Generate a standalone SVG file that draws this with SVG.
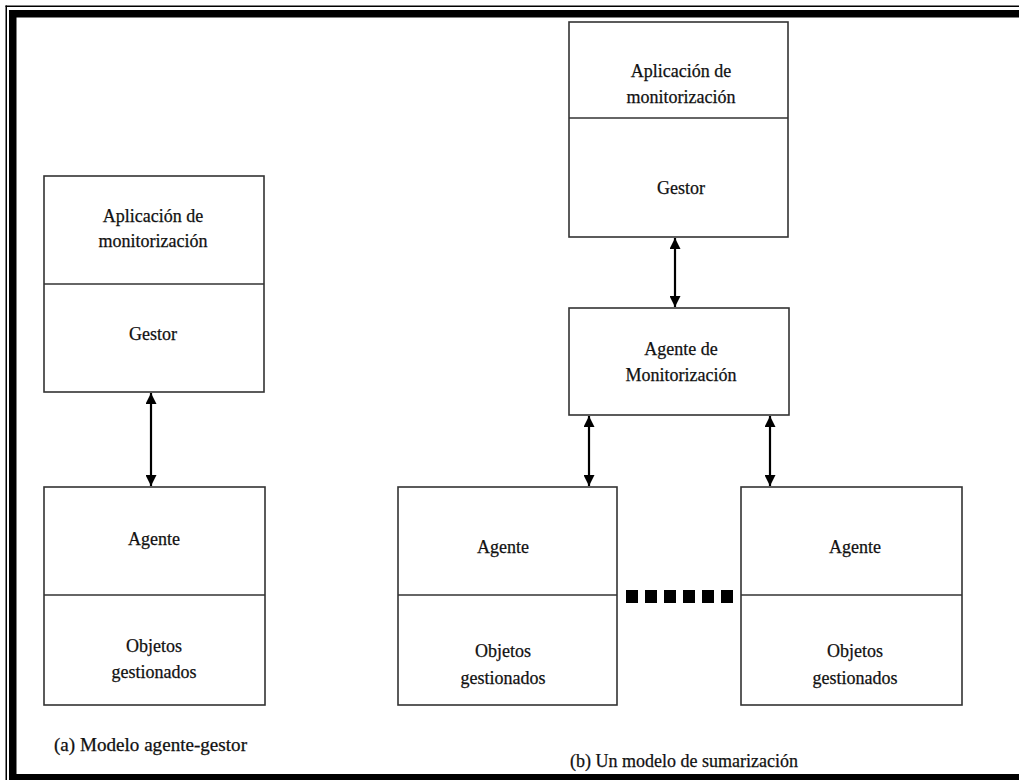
<svg xmlns="http://www.w3.org/2000/svg" width="1019" height="780" viewBox="0 0 1019 780">
<style>
.box{fill:#fff;stroke:#333;stroke-width:1.6}
.div{stroke:#333;stroke-width:1.6}
.t{font-family:"Liberation Serif","Times New Roman","DejaVu Serif",serif;font-size:18px;fill:#111;stroke:#111;stroke-width:0.25;text-anchor:middle}
.cap{font-family:"Liberation Serif","Times New Roman","DejaVu Serif",serif;font-size:18px;fill:#111;stroke:#111;stroke-width:0.25}
.conn{stroke:#000;stroke-width:2.2;fill:none;marker-start:url(#ah);marker-end:url(#ah)}
</style>
<defs>
<marker id="ah" viewBox="0 0 10 10" refX="10" refY="5" markerWidth="5" markerHeight="5" orient="auto-start-reverse" markerUnits="strokeWidth">
<path d="M0,0 L10,5 L0,10 z" fill="#000"/>
</marker>
</defs>
<rect width="1019" height="780" fill="#fff"/>
<g id="frame">
<rect x="5.5" y="5.5" width="1013.5" height="1.5" fill="#000"/>
<rect x="5.5" y="5.5" width="1.5" height="774.5" fill="#000"/>
<rect x="9" y="10" width="1010" height="7.5" fill="#000"/>
<rect x="9" y="10" width="7.5" height="770" fill="#000"/>
<rect x="9" y="774" width="1010" height="6" fill="#000"/>
</g>
<g id="connectors">
<line class="conn" x1="151" y1="393" x2="151" y2="486"/>
<line class="conn" x1="675" y1="238" x2="675" y2="307"/>
<line class="conn" x1="589" y1="416" x2="589" y2="486"/>
<line class="conn" x1="770" y1="416" x2="770" y2="486"/>
</g>
<g id="left-manager">
<rect class="box" x="44" y="176" width="220" height="216"/>
<line class="div" x1="44" y1="284" x2="264" y2="284"/>
<text class="t" x="153" y="222">Aplicación de</text>
<text class="t" x="153" y="247">monitorización</text>
<text class="t" x="153" y="340">Gestor</text>
</g>
<g id="left-agent">
<rect class="box" x="44" y="487" width="221" height="218"/>
<line class="div" x1="44" y1="595" x2="265" y2="595"/>
<text class="t" x="154" y="545">Agente</text>
<text class="t" x="154" y="652">Objetos</text>
<text class="t" x="154" y="678">gestionados</text>
</g>
<g id="right-manager">
<rect class="box" x="569" y="22" width="219" height="215"/>
<line class="div" x1="569" y1="118" x2="788" y2="118"/>
<text class="t" x="681" y="77">Aplicación de</text>
<text class="t" x="681" y="103">monitorización</text>
<text class="t" x="681" y="194">Gestor</text>
</g>
<g id="monitor-agent">
<rect class="box" x="569" y="308" width="220" height="107"/>
<text class="t" x="681" y="355">Agente de</text>
<text class="t" x="681" y="381">Monitorización</text>
</g>
<g id="agent-b1">
<rect class="box" x="398" y="487" width="219" height="218"/>
<line class="div" x1="398" y1="595" x2="617" y2="595"/>
<text class="t" x="503" y="553">Agente</text>
<text class="t" x="503" y="657">Objetos</text>
<text class="t" x="503" y="684">gestionados</text>
</g>
<g id="agent-b2">
<rect class="box" x="741" y="487" width="221" height="218"/>
<line class="div" x1="741" y1="595" x2="962" y2="595"/>
<text class="t" x="855" y="553">Agente</text>
<text class="t" x="855" y="657">Objetos</text>
<text class="t" x="855" y="684">gestionados</text>
</g>
<g id="ellipsis" fill="#000">
<rect x="626" y="590" width="12" height="13"/>
<rect x="645" y="590" width="12" height="13"/>
<rect x="664" y="590" width="12" height="13"/>
<rect x="683" y="590" width="12" height="13"/>
<rect x="702" y="590" width="12" height="13"/>
<rect x="721" y="590" width="12" height="13"/>
</g>
<g id="captions">
<text class="cap" x="54" y="751" textLength="193" lengthAdjust="spacingAndGlyphs">(a) Modelo agente-gestor</text>
<text class="cap" x="570" y="767">(b) Un modelo de sumarización</text>
</g>
</svg>
